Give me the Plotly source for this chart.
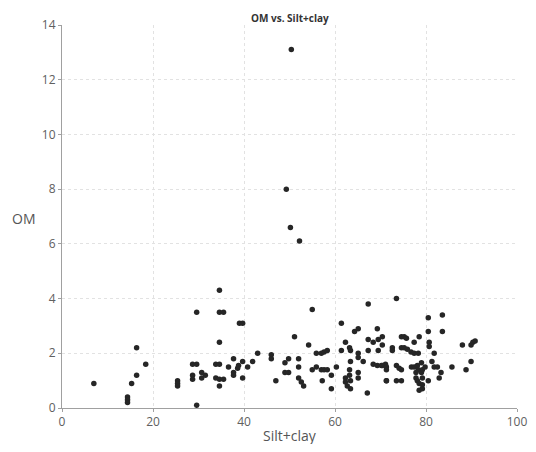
import plotly.graph_objects as go

silt_clay = [7.0, 14.4, 14.4, 14.4, 15.3, 16.4, 16.4, 18.4, 25.4, 25.4, 25.4,
             28.7, 29.6, 29.6, 29.6, 28.7, 28.7, 30.7, 30.7, 31.5, 33.8, 34.6,
             33.8, 34.6, 35.5, 34.6, 34.6, 34.6, 35.5, 34.6, 39.0, 39.7, 36.6,
             37.7, 37.7, 37.7, 38.6, 38.8, 39.7, 39.7, 40.8, 41.9, 43.0, 46.0,
             46.0, 47.0, 49.0, 49.0, 49.8, 49.8, 50.4, 49.3, 50.2, 52.2, 51.1,
             52.0, 52.0, 52.0, 52.6, 53.1, 54.2, 55.0, 55.0, 55.9, 57.0, 57.6,
             58.3, 55.9, 57.0, 57.6, 58.3, 57.2, 59.2, 59.2, 60.3, 61.4, 61.4,
             62.3, 63.2, 63.4, 63.4, 63.2, 62.3, 62.3, 62.7, 63.4, 63.2, 63.4,
             64.3, 65.1, 65.1, 65.1, 65.1, 65.1, 66.2, 67.3, 67.3, 67.3, 67.1,
             68.4, 69.3, 70.2, 71.1, 69.3, 69.5, 69.5, 68.4, 71.3, 73.5, 80.5,
             83.6, 80.5, 83.6, 70.4, 70.4, 74.6, 75.2, 75.7, 78.5, 72.6, 72.6,
             74.6, 75.2, 75.9, 76.7, 77.4, 78.3, 77.4, 80.7, 80.7, 81.8, 70.4,
             71.3, 71.3, 73.5, 74.1, 74.6, 76.8, 77.4, 78.1, 78.3, 79.0, 79.2,
             79.8, 77.8, 79.0, 81.3, 81.8, 82.5, 83.3, 85.7, 71.3, 73.5, 74.6,
             77.8, 78.1, 79.2, 80.5, 78.5, 79.2, 78.5, 79.2, 88.0, 89.9, 90.3,
             90.8, 89.9, 88.8, 82.9]
om = [0.9, 0.4, 0.3, 0.2, 0.9, 1.2, 2.2, 1.6, 1.0, 0.9, 0.8,
      1.6, 1.6, 3.5, 0.1, 1.2, 1.05, 1.3, 1.1, 1.2, 1.6, 1.6,
      1.1, 1.05, 1.05, 0.8, 4.3, 3.5, 3.5, 2.4, 3.1, 3.1, 1.5,
      1.8, 1.3, 1.2, 1.45, 1.55, 1.7, 1.1, 1.5, 1.7, 2.0, 1.95,
      1.8, 1.0, 1.65, 1.3, 1.3, 1.8, 13.1, 8.0, 6.6, 6.1, 2.6,
      1.8, 1.5, 1.1, 0.95, 0.8, 2.3, 3.6, 1.4, 1.5, 1.4, 1.4,
      1.4, 2.0, 2.0, 2.05, 2.1, 1.0, 1.2, 0.7, 1.5, 3.1, 2.1,
      2.4, 2.2, 2.1, 1.7, 1.4, 1.1, 0.95, 0.8, 0.7, 1.2, 1.0,
      2.8, 2.9, 2.0, 1.85, 1.3, 1.1, 1.7, 3.8, 2.5, 2.1, 0.55,
      1.6, 1.55, 1.55, 1.6, 2.9, 2.5, 2.1, 2.4, 1.0, 4.0, 3.3,
      3.4, 2.8, 2.8, 2.6, 2.3, 2.6, 2.6, 2.55, 2.6, 2.2, 2.1,
      2.2, 2.2, 2.15, 2.05, 2.0, 2.0, 2.4, 2.4, 2.25, 2.0, 1.55,
      1.5, 1.4, 1.55, 1.45, 1.4, 1.5, 1.5, 1.55, 1.4, 1.65, 1.4,
      1.5, 1.3, 1.3, 1.7, 1.5, 1.5, 1.3, 1.5, 1.0, 1.0, 1.0,
      1.1, 1.0, 1.1, 1.0, 0.9, 0.85, 0.65, 0.7, 2.3, 2.3, 2.4,
      2.45, 1.7, 1.4, 1.1]

x_ticks = [0, 20, 40, 60, 80, 100]
y_ticks = [0, 2, 4, 6, 8, 10, 12, 14]

font_family = "Open Sans, Noto Sans, sans-serif"

fig = go.Figure()
fig.add_trace(go.Scatter(
    x=silt_clay, y=om, mode="markers",
    marker=dict(color="#262626", size=5.5, line=dict(width=0)),
    showlegend=False, hoverinfo="x+y",
))

axis_common = dict(
    showgrid=True, gridcolor="#e2e2e2", griddash="dot", gridwidth=1,
    showline=True, linecolor="#a0a0a0", linewidth=1,
    ticks="outside", ticklen=3, tickcolor="#a0a0a0",
    tickfont=dict(family=font_family, size=12, color="#606060"),
    zeroline=False, mirror=False, automargin=False,
    ticklabeloverflow="allow",
)

fig.update_layout(
    width=520, height=436,
    margin=dict(l=54, r=11, t=17, b=36),
    paper_bgcolor="white", plot_bgcolor="white",
    font=dict(family=font_family, color="#444444"),
    xaxis=dict(range=[0, 100], tickvals=x_ticks, **axis_common),
    yaxis=dict(range=[0, 14], tickvals=y_ticks, **axis_common),
    annotations=[
        dict(text="<b>OM vs. Silt+clay</b>", x=0.5, y=1, xref="paper", yref="paper",
             xanchor="center", yanchor="bottom", yshift=-2, showarrow=False,
             font=dict(family=font_family, size=10, color="#333333")),
        dict(text="OM", x=-0.0855, y=0.496, xref="paper", yref="paper",
             xanchor="center", yanchor="middle", showarrow=False,
             font=dict(family=font_family, size=14, color="#555555")),
        dict(text="Silt+clay", x=0.5, y=0, xref="paper", yref="paper",
             xanchor="center", yanchor="middle", yshift=-27, showarrow=False,
             font=dict(family=font_family, size=14, color="#555555")),
    ],
)

fig.write_html("out.html")
